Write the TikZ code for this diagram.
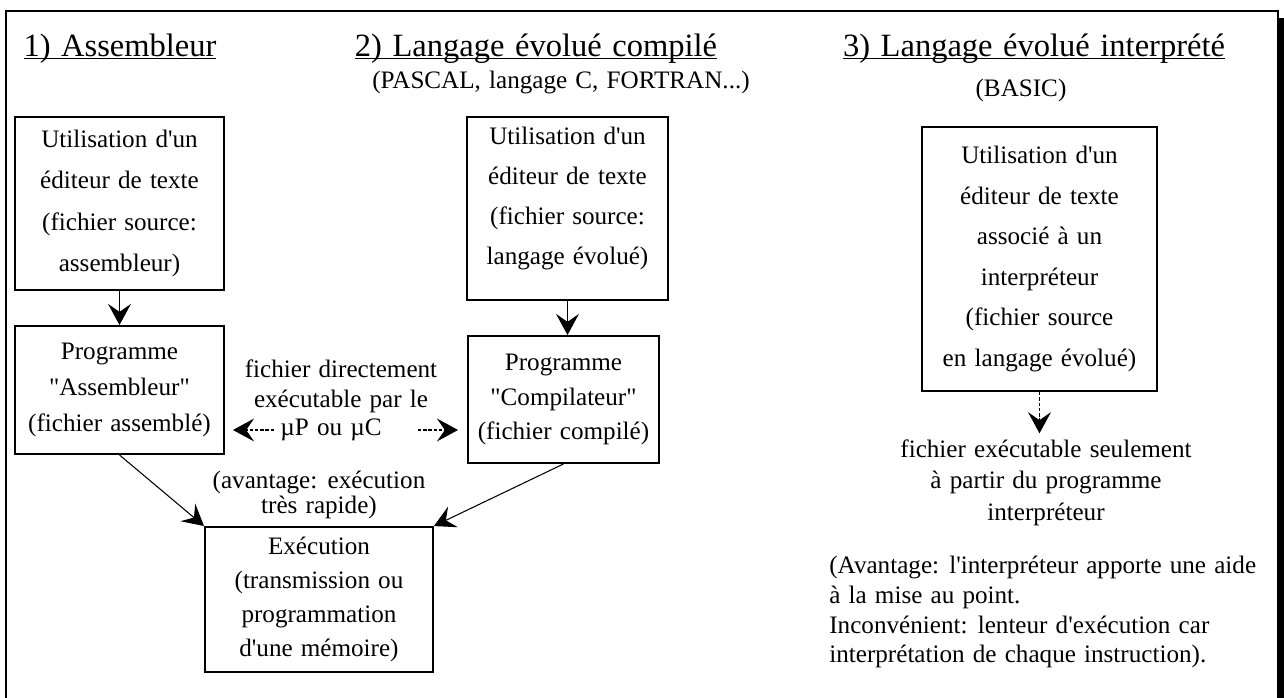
\documentclass[tikz,border=0pt]{standalone}
\usepackage{fontspec}
\setmainfont{Liberation Serif}[Ligatures=TeXOff,WordSpace=1.3]
\usetikzlibrary{arrows.meta}
\newcommand{\souligne}[1]{\underline{\smash{#1}}}

\begin{document}
\begin{tikzpicture}[x=0.2mm,y=-0.2mm,
  titre/.style={anchor=base,font=\fontsize{18.5}{22}\selectfont},
  texte/.style={align=center,font=\fontsize{14.3}{#1}\selectfont},
  texte/.default=17,
  boite/.style={draw,line width=1.1pt,inner sep=0pt,align=center},
  fleche/.style={-{Stealth[length=12pt,width=13pt,inset=4.5pt]},line width=0.6pt},
  pointille/.style={fleche,dash pattern=on 2pt off 1pt}]
  \clip (0,0) rectangle (1284,698);
  % cadre et ombre
  \draw[line width=0.7pt] (6,11) rectangle (1278,720);
  \fill (1279,18) rectangle (1290,720);
  % titres
  \node[titre] (t1) at (120,56) {\souligne{1) Assembleur}};
  \node[titre] (t2) at (536,56) {\souligne{2) Langage évolué compilé}};
  \node[titre] (t3) at (1034,56) {\souligne{3) Langage évolué interprété}};
  \node[texte,anchor=base] (lang) at (561,88) {(PASCAL, langage C, FORTRAN...)};
  \node[texte,anchor=base] (basic) at (1021,96) {(BASIC)};
  % 1) assembleur
  \node[boite,texte=23.5,minimum width=41.8mm,minimum height=34.6mm] (a1) at (119.5,203.5)
    {Utilisation d'un\\éditeur de texte\\(fichier source:\\assembleur)};
  \node[boite,texte=20.4,minimum width=41.8mm,minimum height=25.6mm] (a2) at (119.5,390)
    {Programme\\"Assembleur"\\(fichier assemblé)};
  % 2) compile
  \node[boite,texte=22.7,minimum width=40.2mm,minimum height=36.6mm] (c1) at (567.5,208.5)
    {Utilisation d'un\\éditeur de texte\\(fichier source:\\langage évolué)\\[-1.2ex]};
  \node[boite,texte=19.5,minimum width=38.2mm,minimum height=25.4mm] (c2) at (563.5,399.5)
    {Programme\\"Compilateur"\\(fichier compilé)};
  \node[texte] (direct) at (341,386) {fichier directement\\exécutable par le};
  \node[texte] (mupc) at (331,430) {µP ou µC};
  \node[texte=12.5] (rapide) at (319,495) {(avantage: exécution\\très rapide)};
  \node[boite,texte=19.3,minimum width=45.6mm,minimum height=29mm] (exec) at (319,599.5)
    {Exécution\\(transmission ou\\programmation\\d'une mémoire)};
  % 3) interprete
  \node[boite,texte=23,minimum width=47mm,minimum height=52.8mm] (i1) at (1039.5,259)
    {Utilisation d'un\\éditeur de texte\\associé à un\\interpréteur\\(fichier source\\en langage évolué)};
  \node[texte=17.9] (fexec) at (1046,482.5)
    {fichier exécutable seulement\\à partir du programme\\interpréteur};
  \node[texte,align=left,anchor=west,inner sep=0pt] (avis) at (829,612)
    {(Avantage: l'interpréteur apporte une aide\\à la mise au point.\\Inconvénient: lenteur d'exécution car\\interprétation de chaque instruction).};
  % fleches
  \draw[fleche] (a1) -- (a2);
  \draw[fleche] (c1.south) -- (c1.south |- c2.north);
  \draw[fleche] (a2.south) -- (exec.north west);
  \draw[fleche] (c2.south) -- (exec.north east);
  \draw[pointille,shorten >=1.6mm] (mupc.west) -- (mupc.west -| a2.east);
  \draw[pointille,shorten <=6mm,shorten >=1.8mm] (mupc.east) -- (mupc.east -| c2.west);
  \draw[pointille] (i1.south) -- (i1.south |- fexec.north);
\end{tikzpicture}
\end{document}
